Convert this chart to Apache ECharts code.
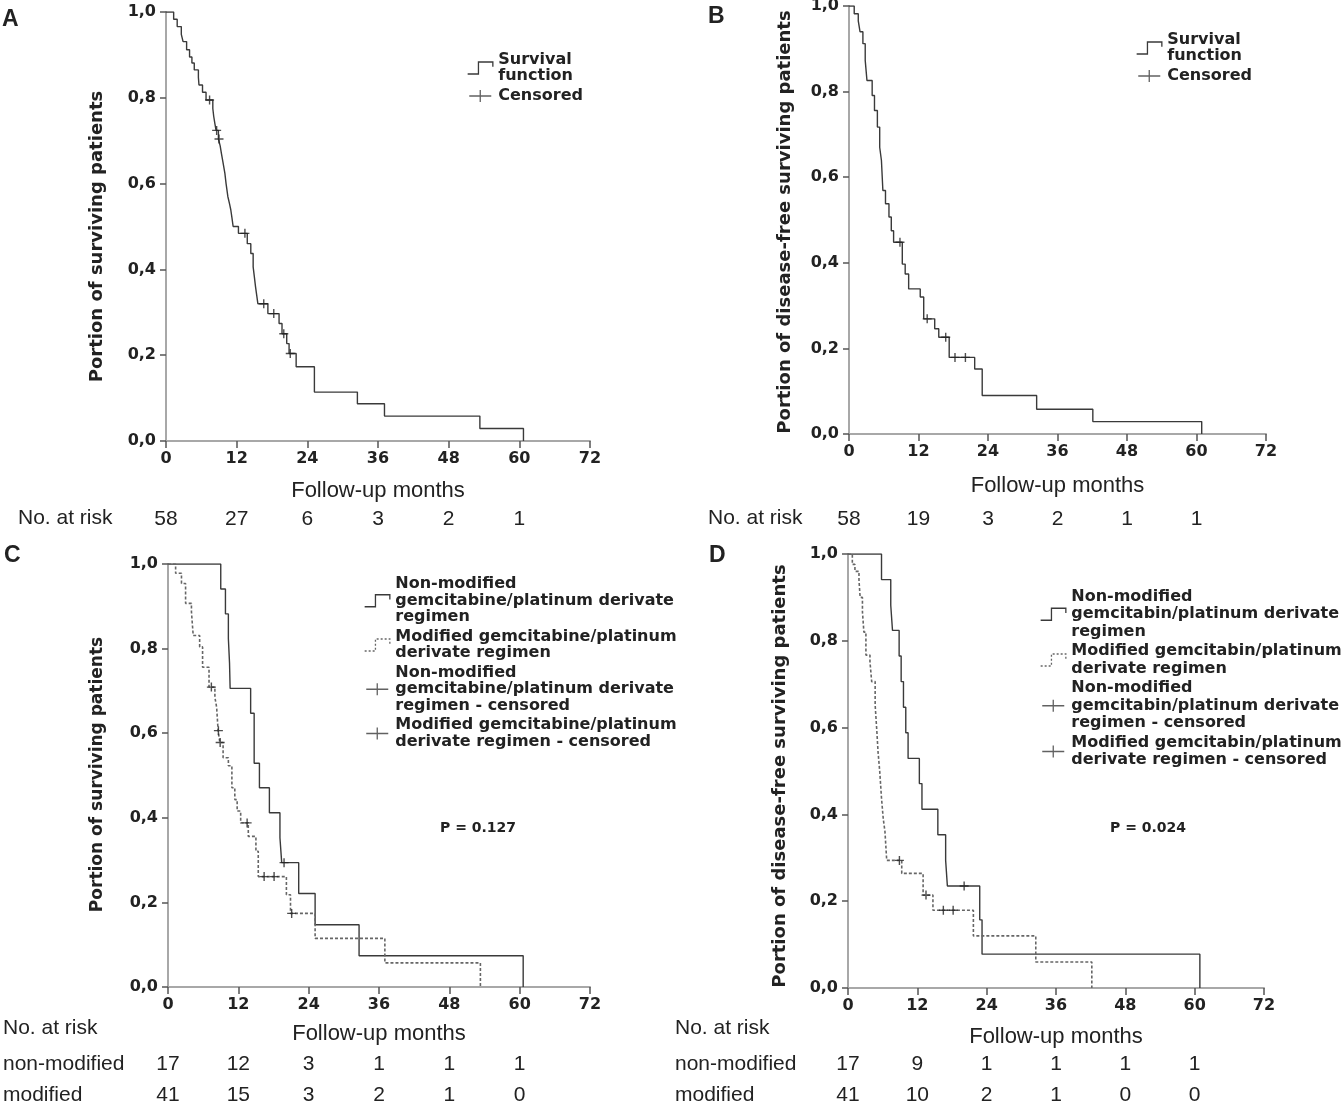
<!DOCTYPE html>
<html>
<head>
<meta charset="utf-8">
<script src="https://cdn.jsdelivr.net/npm/echarts@6/dist/echarts.min.js"></script>
<style>
  html, body { margin: 0; background: #fff; }
  #chart { width: 1341px; height: 1104px; }
</style>
</head>
<body>
<div id="chart"></div>
<script>
// Kaplan-Meier step points: [month, survival after the drop]
const survA = [[0,1],[1.3,0.983],[1.9,0.966],[2.6,0.948],[2.9,0.931],[3.5,0.912],[4.0,0.895],[4.4,0.881],[4.8,0.865],[5.5,0.848],[5.6,0.83],[6.2,0.813],[6.8,0.795],[7.95,0.775],[8.1,0.757],[8.3,0.74],[8.5,0.724],[8.9,0.704],[9.2,0.688],[9.4,0.671],[9.7,0.648],[10.0,0.624],[10.2,0.6],[10.5,0.57],[10.8,0.552],[11.0,0.539],[11.2,0.52],[11.4,0.5],[12.3,0.484],[13.8,0.46],[14.4,0.437],[14.8,0.406],[15.0,0.383],[15.2,0.36],[15.4,0.34],[15.6,0.32],[17.3,0.297],[19.2,0.274],[19.7,0.25],[20.5,0.227],[20.9,0.204],[22.1,0.173],[25.2,0.114],[32.5,0.087],[37.1,0.058],[53.3,0.029],[60.7,0]];
const censA = [[7.4,0.795],[8.6,0.724],[9.0,0.704],[13.4,0.484],[16.6,0.32],[18.3,0.297],[20.0,0.25],[21.1,0.204]];

const survB = [[0,1],[0.9,0.982],[1.6,0.965],[1.9,0.94],[2.4,0.912],[2.8,0.873],[3.1,0.826],[4.0,0.791],[4.4,0.756],[4.9,0.717],[5.3,0.67],[5.6,0.639],[5.85,0.569],[6.3,0.538],[6.9,0.507],[7.3,0.475],[7.7,0.448],[9.2,0.397],[9.7,0.374],[10.3,0.339],[12.3,0.32],[12.9,0.269],[14.8,0.246],[15.5,0.226],[17.3,0.179],[21.7,0.152],[23.0,0.09],[32.4,0.058],[42.1,0.029],[60.9,0]];
const censB = [[8.8,0.448],[13.5,0.269],[16.7,0.226],[18.3,0.179],[20.1,0.179]];

const survCnon = [[0,1],[9.0,0.941],[9.8,0.882],[10.3,0.824],[10.5,0.765],[10.6,0.706],[14.1,0.647],[14.7,0.529],[15.6,0.471],[17.3,0.412],[19.1,0.353],[19.4,0.294],[22.3,0.221],[25.1,0.147],[32.6,0.074],[60.6,0]];
const censCnon = [[19.8,0.294]];
const survCmod = [[0,1],[1.3,0.978],[2.3,0.954],[3.0,0.907],[4.0,0.887],[4.3,0.831],[5.4,0.804],[5.9,0.756],[7.0,0.709],[8.0,0.685],[8.3,0.661],[8.55,0.606],[8.85,0.578],[9.4,0.542],[10.3,0.523],[10.9,0.471],[11.4,0.443],[11.8,0.416],[12.4,0.388],[13.7,0.356],[15.0,0.321],[15.4,0.261],[20.2,0.218],[20.9,0.174],[25.1,0.115],[37.0,0.057],[53.3,0]];
const censCmod = [[7.4,0.709],[8.6,0.606],[8.9,0.578],[13.5,0.388],[16.4,0.261],[18.1,0.261],[21.1,0.174]];

const survDnon = [[0,1],[5.8,0.941],[7.4,0.882],[7.7,0.824],[8.85,0.765],[9.2,0.706],[9.6,0.647],[10.0,0.588],[10.4,0.529],[12.35,0.471],[12.8,0.412],[15.55,0.353],[16.9,0.294],[17.2,0.235],[22.8,0.157],[23.2,0.078],[60.9,0]];
const censDnon = [[20.1,0.235]];
const survDmod = [[0,1],[0.75,0.976],[1.2,0.96],[1.9,0.94],[2.1,0.9],[2.5,0.867],[2.75,0.82],[3.1,0.767],[3.8,0.752],[4.1,0.706],[4.7,0.652],[5.0,0.59],[5.2,0.544],[5.5,0.498],[5.8,0.437],[6.1,0.39],[6.4,0.36],[6.7,0.294],[9.3,0.264],[13.0,0.214],[14.7,0.179],[21.7,0.12],[32.5,0.06],[42.2,0]];
const censDmod = [[8.9,0.294],[13.5,0.214],[16.5,0.179],[18.2,0.179]];

// numbers at risk at 0, 12, 24, 36, 48, 60 months
const riskA = [58, 27, 6, 3, 2, 1];
const riskB = [58, 19, 3, 2, 1, 1];
const riskCnon = [17, 12, 3, 1, 1, 1];
const riskCmod = [41, 15, 3, 2, 1, 0];
const riskDnon = [17, 9, 1, 1, 1, 1];
const riskDmod = [41, 10, 2, 1, 0, 0];

const namesAB = ['Survival\nfunction', 'Censored'];
const namesC = [
  'Non-modified\ngemcitabine/platinum derivate\nregimen',
  'Modified gemcitabine/platinum\nderivate regimen',
  'Non-modified\ngemcitabine/platinum derivate\nregimen - censored',
  'Modified gemcitabine/platinum\nderivate regimen - censored'
];
const namesD = [
  'Non-modified\ngemcitabin/platinum derivate\nregimen',
  'Modified gemcitabin/platinum\nderivate regimen',
  'Non-modified\ngemcitabin/platinum derivate\nregimen - censored',
  'Modified gemcitabin/platinum\nderivate regimen - censored'
];
const pValues = ['P = 0.127', 'P = 0.024'];

const BOLD = 'DejaVu Sans';
const PLAIN = 'Liberation Sans';
const INK = '#222';
const CURVE = '#3a3a3a';

const grids = [
  { left: 166, top: 12, width: 424, height: 429, outerBoundsMode: 'none' },
  { left: 849, top: 6, width: 417, height: 428, outerBoundsMode: 'none' },
  { left: 168, top: 564, width: 422, height: 423, outerBoundsMode: 'none' },
  { left: 848, top: 554, width: 416, height: 434, outerBoundsMode: 'none' }
];

function mainX(gi, gap) {
  return {
    type: 'value', gridIndex: gi, min: 0, max: 72, interval: 12,
    name: 'Follow-up months', nameLocation: 'middle', nameGap: gap,
    nameTextStyle: { fontFamily: PLAIN, fontSize: 22, color: INK },
    axisLine: { onZero: false, lineStyle: { color: '#a8a8a8', width: 2 } },
    axisTick: { length: 7, lineStyle: { color: '#555', width: 1.5 } },
    axisLabel: { margin: 10, fontFamily: BOLD, fontWeight: 'bold', fontSize: 16, color: INK },
    splitLine: { show: false }
  };
}

function mainY(gi, name, gap, size, shift) {
  return {
    type: 'value', gridIndex: gi, min: 0, max: 1, interval: 0.2,
    name: name, nameLocation: 'middle', nameRotate: 90, nameGap: gap,
    nameTextStyle: {
      fontFamily: BOLD, fontWeight: 'bold', fontSize: size, color: INK,
      padding: shift > 0 ? [0, shift, 0, 0] : [0, 0, 0, -shift]
    },
    axisLine: { show: true, lineStyle: { color: '#a8a8a8', width: 2 } },
    axisTick: { show: true, length: 6, lineStyle: { color: '#555', width: 1.5 } },
    axisLabel: {
      margin: 10, fontFamily: BOLD, fontWeight: 'bold', fontSize: 16, color: INK,
      formatter: v => v.toFixed(1).replace('.', ',')
    },
    splitLine: { show: false }
  };
}

function riskX(gi, counts, offset) {
  return {
    type: 'value', gridIndex: gi, min: 0, max: 72, interval: 12,
    position: 'bottom', offset: offset,
    axisLine: { show: false }, axisTick: { show: false }, splitLine: { show: false },
    axisLabel: {
      margin: 0, fontFamily: PLAIN, fontSize: 21, color: INK,
      showMinLabel: true, showMaxLabel: true,
      formatter: v => { const c = counts[Math.round(v / 12)]; return c === undefined ? '' : String(c); }
    }
  };
}

function kmLine(name, data, ai, dotted) {
  return {
    type: 'line', name: name, data: data, step: 'end',
    xAxisIndex: ai, yAxisIndex: ai, symbol: 'none', silent: true,
    lineStyle: dotted
      ? { color: '#666', width: 1.6, type: [3, 2] }
      : { color: CURVE, width: 1.4 },
    itemStyle: { color: CURVE },
    z: 3
  };
}

function censor(name, data, ai) {
  return {
    type: 'scatter', name: name, data: data,
    xAxisIndex: ai, yAxisIndex: ai, silent: true,
    symbol: 'path://M0,5L10,5M5,0L5,10', symbolSize: 9,
    itemStyle: { color: 'rgba(0,0,0,0)', borderColor: '#222', borderWidth: 1.4 },
    z: 4
  };
}

const stepIcon = 'path://M0,11L9,11L9,1L21,1L21,5';
const crossIcon = 'path://M0,6L22,6M11,0L11,12';
function legendItem(name, icon, dotted) {
  return {
    name: name, icon: icon,
    itemStyle: { color: 'rgba(0,0,0,0)', borderColor: dotted ? '#666' : CURVE, borderWidth: 1.3, borderType: dotted ? [2, 2] : 'solid' }
  };
}
function legend(left, top, items, lineHeight, gap) {
  return {
    orient: 'vertical', left: left, top: top, padding: 0, itemGap: gap,
    itemWidth: 26, itemHeight: 12, selectedMode: false,
    textStyle: { fontFamily: BOLD, fontWeight: 'bold', fontSize: 16, lineHeight: lineHeight, color: INK },
    data: items
  };
}

// text centred vertically on y
function label(text, x, y, font) {
  return {
    type: 'text', x: x, y: y, silent: true,
    style: { text: text, fill: INK, font: font || '21px "Liberation Sans"', align: 'left', verticalAlign: 'middle' }
  };
}
const LETTER = 'bold 23px "Liberation Sans"';
const PFONT = 'bold 14px "DejaVu Sans"';

const option = {
  animation: false,
  backgroundColor: '#fff',
  grid: grids,
  xAxis: [
    mainX(0, 39), mainX(1, 41), mainX(2, 36), mainX(3, 38),
    riskX(0, riskA, 68), riskX(1, riskB, 75),
    riskX(2, riskCnon, 67), riskX(2, riskCmod, 98),
    riskX(3, riskDnon, 66), riskX(3, riskDmod, 97)
  ],
  yAxis: [
    mainY(0, 'Portion of surviving patients', 60, 18, 20),
    mainY(1, 'Portion of disease-free surviving patients', 55, 18, 4),
    mainY(2, 'Portion of surviving patients', 62, 17, -2),
    mainY(3, 'Portion of disease-free surviving patients', 59, 18, 10)
  ],
  legend: [
    legend(467, 52, [legendItem(namesAB[0], stepIcon), legendItem(namesAB[1], crossIcon)], 16, 4),
    legend(1136, 32, [legendItem(namesAB[0], stepIcon), legendItem(namesAB[1], crossIcon)], 16, 4),
    legend(364, 576, [legendItem(namesC[0], stepIcon), legendItem(namesC[1], stepIcon, true),
                      legendItem(namesC[2], crossIcon), legendItem(namesC[3], crossIcon)], 16.5, 3),
    legend(1040, 588, [legendItem(namesD[0], stepIcon), legendItem(namesD[1], stepIcon, true),
                       legendItem(namesD[2], crossIcon), legendItem(namesD[3], crossIcon)], 17.5, 2)
  ],
  series: [
    kmLine(namesAB[0], survA, 0), censor(namesAB[1], censA, 0),
    kmLine(namesAB[0], survB, 1), censor(namesAB[1], censB, 1),
    kmLine(namesC[0], survCnon, 2), kmLine(namesC[1], survCmod, 2, true),
    censor(namesC[2], censCnon, 2), censor(namesC[3], censCmod, 2),
    kmLine(namesD[0], survDnon, 3), kmLine(namesD[1], survDmod, 3, true),
    censor(namesD[2], censDnon, 3), censor(namesD[3], censDmod, 3)
  ],
  graphic: [
    label('A', 2, 20, LETTER),
    label('B', 708, 17, LETTER),
    label('C', 4, 556, LETTER),
    label('D', 709, 556, LETTER),
    label('No. at risk', 18, 518),
    label('No. at risk', 708, 518),
    label('No. at risk', 3, 1028),
    label('non-modified', 3, 1064),
    label('modified', 3, 1095),
    label('No. at risk', 675, 1028),
    label('non-modified', 675, 1064),
    label('modified', 675, 1095),
    label(pValues[0], 440, 828, PFONT),
    label(pValues[1], 1110, 828, PFONT)
  ]
};

const chart = echarts.init(document.getElementById('chart'), null, { renderer: 'canvas' });
chart.setOption(option);
</script>
</body>
</html>
